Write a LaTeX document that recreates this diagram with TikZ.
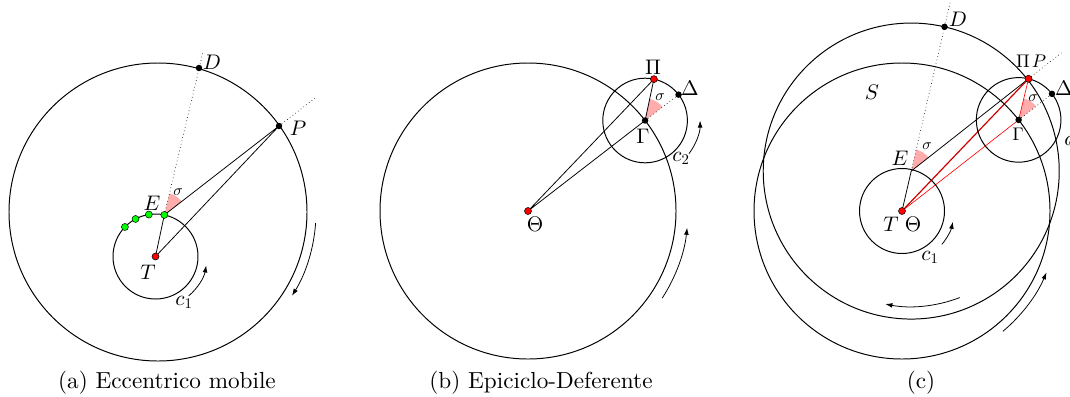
\documentclass[tikz,border=0pt]{standalone}
\usepackage{amsmath,amssymb}
\usepackage{fontspec}
\setmainfont{lmroman10-regular.otf}
\usetikzlibrary{arrows.meta}
\DeclareFontShape{OML}{cmm}{m}{it}{<->cmmi10}{}
\DeclareFontShape{OT1}{cmr}{m}{n}{<->cmr10}{}
\definecolor{WedgePink}{RGB}{255,172,172}
\definecolor{DarkRed}{RGB}{205,0,0}
\tikzset{
  blackdot/.style={circle,fill=black,inner sep=0pt,minimum size=4.6pt},
  reddot/.style={circle,draw=black,fill=red,inner sep=0pt,minimum size=5pt,line width=0.35pt},
  greendot/.style={circle,draw=black,fill=green,inner sep=0pt,minimum size=5pt,line width=0.35pt},
  orbit/.style={line width=0.7pt},
  auxline/.style={dotted,line width=0.45pt},
  angfill/.style={fill=WedgePink},
  lab/.style={inner sep=0pt,font=\fontsize{15}{18}\selectfont},
  smalllab/.style={inner sep=0pt,font=\fontsize{13}{15}\selectfont},
  siglab/.style={inner sep=0pt,font=\fontsize{11}{13}\selectfont},
  capt/.style={inner sep=0pt,font=\fontsize{16.5}{20}\selectfont},
  >={Latex[length=5pt,width=3.4pt]}
}

\begin{document}
\begin{tikzpicture}[x=0.025cm,y=-0.025cm,line width=0.55pt]
  \useasboundingbox (0,0) rectangle (1070,396);
  \clip (0,0) rectangle (1070,396);

  % (a) eccentrico mobile
  \coordinate (Ca) at (158,212);
  \coordinate (Ta) at (155.5,256.5);
  \path (Ta) ++(-78:42.5) coordinate (Ea);
  \coordinate (Da) at (199,68);
  \coordinate (Dax) at (203,52);
  \coordinate (Pa) at (279,126);
  \path (Pa) ++(-37.8:47) coordinate (Pax);

  \fill[angfill] (Ea) -- ++(-76.7:22) arc[start angle=-76.7,end angle=-37.8,radius=22] -- cycle;
  \draw[auxline] (Ea) -- (Dax);
  \draw[auxline] (Pa) -- (Pax);
  \draw (Ta) -- (Ea) -- (Pa) -- cycle;
  \draw[orbit] (Ca) circle[radius=149];
  \draw[orbit] (Ta) circle[radius=42.5];
  \draw[->] (Ta) ++(50:51.5) arc[start angle=50,end angle=10,radius=51.5];
  \draw[->] (Ca) ++(4:158) arc[start angle=4,end angle=32,radius=158];

  \foreach \a/\k in {-99/1,-118/2,-136/3}
    \path (Ta) ++(\a:42.5) node[greendot] (ga\k) {};
  \node[greendot] (ea) at (Ea) {};
  \node[reddot] (ta) at (Ta) {};
  \node[blackdot] (da) at (Da) {};
  \node[blackdot] (pa) at (Pa) {};

  \node[lab] (lDa) at (212,62) {$D$};
  \node[lab] (lPa) at (298,128) {$P$};
  \node[lab] (lEa) at (152,203) {$E$};
  \node[lab] (lTa) at (148,272) {$T$};
  \node[lab] (lca) at (184,302) {$c_1$};
  \node[siglab] (sa) at (178,192) {$\sigma$};
  \node[capt] (capa) at (167,383) {(a) Eccentrico mobile};

  % (b) epiciclo-deferente
  \coordinate (Thb) at (528,211);
  \path (Thb) ++(-37.7:148) coordinate (Gb);
  \path (Gb) ++(-78:42.3) coordinate (Pib);
  \path (Gb) ++(-37.7:42.3) coordinate (Deb);

  \fill[angfill] (Gb) -- ++(-78:22) arc[start angle=-78,end angle=-37.7,radius=22] -- cycle;
  \draw[auxline] (Gb) -- (Deb);
  \draw (Thb) -- (Pib) -- (Gb) -- cycle;
  \draw[orbit] (Thb) circle[radius=148];
  \draw[orbit] (Gb) circle[radius=42.3];
  \draw[->] (Gb) ++(37:55) arc[start angle=37,end angle=0,radius=55];
  \draw[->] (Thb) ++(33:160) arc[start angle=33,end angle=6,radius=160];

  \node[reddot] (thb) at (Thb) {};
  \node[reddot] (pib) at (Pib) {};
  \node[blackdot] (gb) at (Gb) {};
  \node[blackdot] (deb) at (Deb) {};

  \node[lab] (lPib) at (653,67) {$\Pi$};
  \node[lab] (lDeb) at (690,88) {$\Delta$};
  \node[lab] (lGb) at (643,136) {$\Gamma$};
  \node[lab] (lThb) at (535,224) {$\Theta$};
  \node[lab] (lcb) at (681,158) {$c_2$};
  \node[siglab] (sb) at (660,97) {$\sigma$};
  \node[capt] (capb) at (541,383) {(b) Epiciclo-Deferente};

  % (c)
  \coordinate (Tc) at (902,211);
  \path (Tc) ++(-77:41) coordinate (Ec);
  \path (Tc) ++(-38:148) coordinate (Gc);
  \path (Gc) ++(-76.5:42.3) coordinate (Pc);
  \path (Ec) ++(-77:148) coordinate (Dc);
  \path (Ec) ++(-77:182) coordinate (Dcx);
  \path (Gc) ++(-38:42.3) coordinate (Dec);
  \path (Pc) ++(-38.2:42) coordinate (Pcx);

  \fill[angfill] (Ec) -- ++(-77:22) arc[start angle=-77,end angle=-38.2,radius=22] -- cycle;
  \fill[angfill] (Gc) -- ++(-76.5:22) arc[start angle=-76.5,end angle=-38,radius=22] -- cycle;
  \draw[auxline] (Ec) -- (Dcx);
  \draw[auxline] (Gc) -- (Dec);
  \draw[auxline] (Pc) -- (Pcx);
  \draw (Tc) -- (Ec) -- (Pc);
  \draw[red,line width=0.45pt] (Tc) -- (Gc) -- (Pc);
  \draw[DarkRed,line width=0.85pt] (Tc) -- (Pc);
  \draw[orbit] (Ec) circle[radius=148];
  \draw[orbit] (Tc) circle[radius=148];
  \draw[orbit] (Tc) circle[radius=42.5];
  \draw[orbit] (Gc) circle[radius=42.3];
  \draw[->] (Tc) ++(40:52) arc[start angle=40,end angle=12,radius=52];
  \draw[->] (Ec) ++(69:135.5) arc[start angle=69,end angle=101,radius=135.5];
  \draw[->] (Tc) ++(50:157) arc[start angle=50,end angle=23,radius=157];
  \draw[->] (Gc) ++(25:56) arc[start angle=25,end angle=-15,radius=56];

  \node[reddot] (tc) at (Tc) {};
  \node[reddot] (pc) at (Pc) {};
  \node[blackdot] (dc) at (Dc) {};
  \node[blackdot] (gc) at (Gc) {};
  \node[blackdot] (dec) at (Dec) {};

  \node[lab] (lDc) at (958,19) {$D$};
  \node[lab] (lSc) at (872,92) {$S$};
  \node[smalllab] (lPic) at (1023,61) {$\Pi$};
  \node[smalllab] (lPc) at (1039,61) {$P$};
  \node[lab] (lDec) at (1064,88) {$\Delta$};
  \node[smalllab] (lGc) at (1018,134) {$\Gamma$};
  \node[lab] (lEc) at (900,158) {$E$};
  \node[lab] (lTc) at (891,224) {$T$};
  \node[lab] (lThc) at (913,224) {$\Theta$};
  \node[lab] (lcc) at (930,257) {$c_1$};
  \node[lab] (lc2c) at (1073,142) {$c_2$};
  \node[siglab] (sc1) at (927,146) {$\sigma$};
  \node[siglab] (sc2) at (1033,98) {$\sigma$};
  \node[capt] (capc) at (921,383) {(c)};
\end{tikzpicture}
\end{document}
